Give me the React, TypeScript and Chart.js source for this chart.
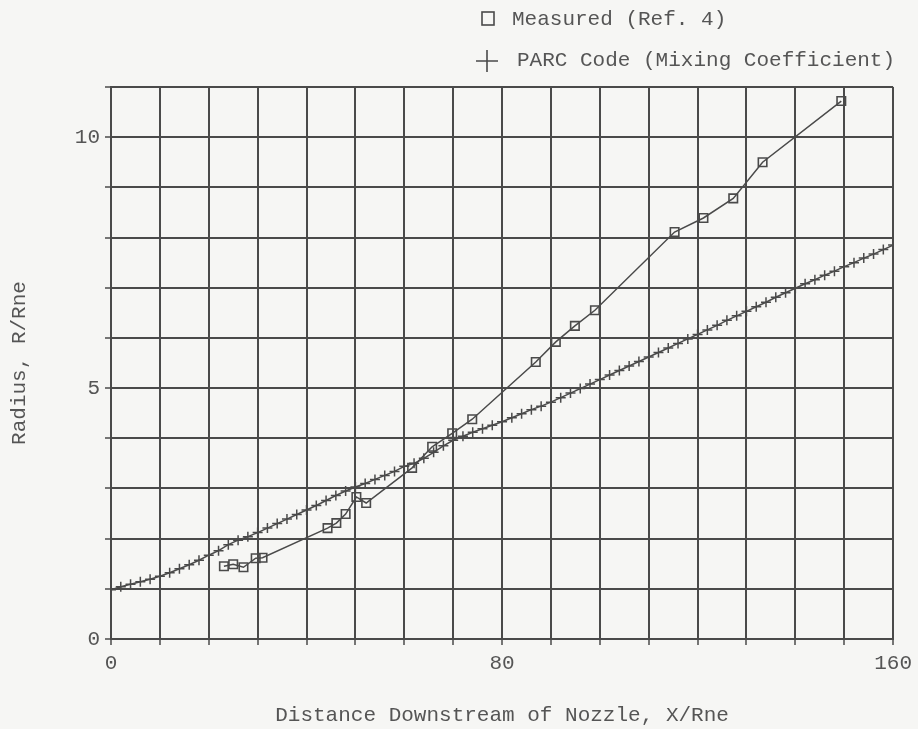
import React, { useEffect, useRef } from "react";
import { Chart, registerables } from "chart.js";

Chart.register(...registerables);

// Measured (Ref. 4)
const measuredX = [23.1, 25.0, 27.1, 29.6, 31.0, 44.3, 46.1, 48.0, 50.2, 52.2, 61.6, 65.7, 69.8, 73.9, 86.9, 91.0, 94.9, 99.0, 115.3, 121.2, 127.3, 133.3, 149.4];
const measuredY = [1.45, 1.49, 1.43, 1.61, 1.62, 2.21, 2.31, 2.49, 2.83, 2.71, 3.41, 3.83, 4.10, 4.38, 5.52, 5.92, 6.24, 6.55, 8.11, 8.39, 8.78, 9.50, 10.72];

// PARC Code (Mixing Coefficient)
const parcX = [0, 2, 4, 6, 8, 10, 12, 14, 16, 18, 20, 22, 24, 26, 28, 30, 32, 34, 36, 38, 40, 42, 44, 46, 48, 50, 52, 54, 56, 58, 60, 62, 64, 66, 68, 70, 72, 74, 76, 78, 80, 82, 84, 86, 88, 90, 92, 94, 96, 98, 100, 102, 104, 106, 108, 110, 112, 114, 116, 118, 120, 122, 124, 126, 128, 130, 132, 134, 136, 138, 140, 142, 144, 146, 148, 150, 152, 154, 156, 158, 160];
const parcY = [0.98, 1.04, 1.09, 1.14, 1.19, 1.25, 1.32, 1.40, 1.48, 1.57, 1.67, 1.76, 1.88, 1.97, 2.04, 2.12, 2.21, 2.30, 2.39, 2.48, 2.57, 2.66, 2.76, 2.86, 2.95, 3.03, 3.10, 3.18, 3.26, 3.34, 3.44, 3.50, 3.60, 3.72, 3.85, 3.96, 4.04, 4.12, 4.19, 4.26, 4.33, 4.41, 4.49, 4.57, 4.64, 4.72, 4.81, 4.90, 4.99, 5.08, 5.17, 5.26, 5.35, 5.44, 5.53, 5.62, 5.71, 5.80, 5.89, 5.98, 6.07, 6.16, 6.25, 6.35, 6.44, 6.53, 6.62, 6.71, 6.81, 6.90, 6.99, 7.08, 7.16, 7.25, 7.33, 7.42, 7.50, 7.59, 7.67, 7.76, 7.85];

const xLabels = [0, 80, 160];
const yLabels = [0, 5, 10];
const legendLabels = ["Measured (Ref. 4)", "PARC Code (Mixing Coefficient)"];

const FONT = "'Liberation Mono', 'DejaVu Sans Mono', monospace";
const INK = "#4a4a4a";
const TEXT = "#555555";
const BG = "#f6f6f4";

export default function App() {
  const ref = useRef<HTMLCanvasElement | null>(null);

  useEffect(() => {
    document.body.style.margin = "0";
    document.body.style.background = BG;
    const canvas = ref.current;
    if (!canvas) return;

    const bgPlugin = {
      id: "bg",
      beforeDraw(chart: any) {
        const ctx = chart.ctx;
        ctx.save();
        ctx.fillStyle = BG;
        ctx.fillRect(0, 0, chart.width, chart.height);
        ctx.restore();
      },
    };

    const legendPlugin = {
      id: "customLegend",
      afterDraw(chart: any) {
        const ctx = chart.ctx;
        ctx.save();
        ctx.strokeStyle = INK;
        ctx.lineWidth = 1.6;
        // square marker
        ctx.strokeRect(482, 12, 12, 13);
        // cross marker
        ctx.beginPath();
        ctx.moveTo(476, 61);
        ctx.lineTo(498, 61);
        ctx.moveTo(487, 50);
        ctx.lineTo(487, 72);
        ctx.stroke();
        ctx.fillStyle = TEXT;
        ctx.font = `21px ${FONT}`;
        ctx.textBaseline = "middle";
        ctx.textAlign = "left";
        ctx.fillText(legendLabels[0], 512, 19);
        ctx.fillText(legendLabels[1], 517, 60);
        ctx.restore();
      },
    };

    const chart = new Chart(canvas, {
      type: "scatter",
      data: {
        datasets: [
          {
            label: legendLabels[0],
            data: measuredX.map((x, i) => ({ x, y: measuredY[i] })),
            showLine: true,
            borderColor: INK,
            borderWidth: 1.5,
            backgroundColor: "rgba(0,0,0,0)",
            pointStyle: "rect",
            pointRadius: 6,
            pointBorderWidth: 1.6,
            pointBorderColor: INK,
          },
          {
            label: legendLabels[1],
            data: parcX.map((x, i) => ({ x, y: parcY[i] })),
            showLine: true,
            borderColor: INK,
            borderWidth: 1.5,
            backgroundColor: "rgba(0,0,0,0)",
            pointStyle: "cross",
            pointRadius: 5,
            pointBorderWidth: 1.5,
            pointBorderColor: INK,
          },
        ],
      },
      options: {
        animation: false,
        responsive: false,
        maintainAspectRatio: false,
        events: [],
        layout: { padding: { top: 87, right: 23, left: 0, bottom: 0 } },
        plugins: {
          legend: { display: false },
          tooltip: { enabled: false },
        },
        scales: {
          x: {
            type: "linear",
            min: 0,
            max: 160,
            afterFit(scale: any) {
              scale.height = 90;
            },
            afterBuildTicks(scale: any) {
              const t = [];
              for (const v of parcX) if (v % 10 === 0) t.push({ value: v });
              scale.ticks = t;
            },
            ticks: {
              autoSkip: false,
              maxRotation: 0,
              color: TEXT,
              font: { family: FONT, size: 21 },
              padding: 6,
              callback: (v: any) => (xLabels.includes(Number(v)) ? String(v) : ""),
            },
            grid: { color: INK, lineWidth: 2, tickLength: 6, tickColor: INK, tickWidth: 1.5 },
            border: { color: INK, width: 2 },
            title: {
              display: true,
              text: "Distance Downstream of Nozzle, X/Rne",
              color: TEXT,
              font: { family: FONT, size: 21 },
              padding: { top: 0, bottom: 1 },
            },
          },
          y: {
            type: "linear",
            min: 0,
            max: 11,
            afterFit(scale: any) {
              scale.width = 111;
            },
            ticks: {
              stepSize: 1,
              autoSkip: false,
              color: TEXT,
              font: { family: FONT, size: 21 },
              padding: 5,
              callback: (v: any) => (yLabels.includes(Number(v)) ? String(v) : ""),
            },
            grid: { color: INK, lineWidth: 2, tickLength: 6, tickColor: INK, tickWidth: 1.5 },
            border: { color: INK, width: 2 },
            title: {
              display: true,
              text: "Radius, R/Rne",
              color: TEXT,
              font: { family: FONT, size: 21 },
              padding: { top: 7, bottom: 0 },
            },
          },
        },
      },
      plugins: [bgPlugin, legendPlugin],
    } as any);

    return () => chart.destroy();
  }, []);

  return (
    <div style={{ width: 918, height: 729, background: BG }}>
      <canvas ref={ref} width={918} height={729} style={{ display: "block", width: 918, height: 729 }} />
    </div>
  );
}
